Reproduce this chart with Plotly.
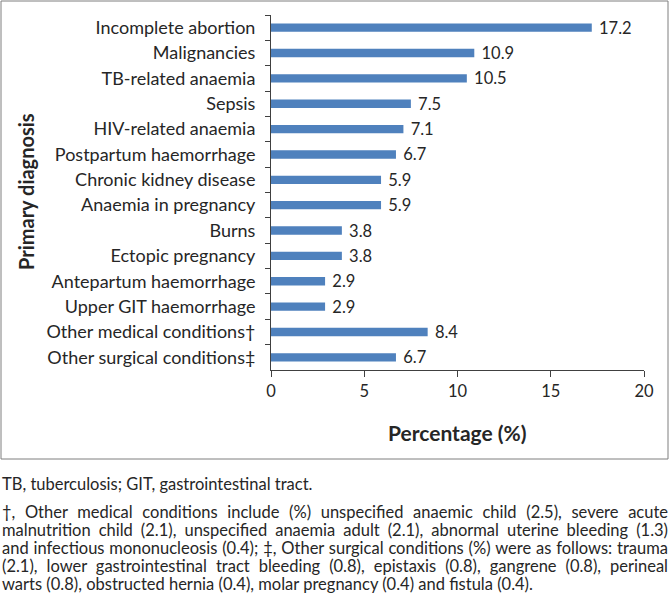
import plotly.graph_objects as go

categories = ["Incomplete abortion", "Malignancies", "TB-related anaemia", "Sepsis",
              "HIV-related anaemia", "Postpartum haemorrhage", "Chronic kidney disease",
              "Anaemia in pregnancy", "Burns", "Ectopic pregnancy", "Antepartum haemorrhage",
              "Upper GIT haemorrhage", "Other medical conditions†", "Other surgical conditions‡"]
values = [17.2, 10.9, 10.5, 7.5, 7.1, 6.7, 5.9, 5.9, 3.8, 3.8, 2.9, 2.9, 8.4, 6.7]
x_ticks = [0, 5, 10, 15, 20]

abbrev_note = "TB, tuberculosis; GIT, gastrointestinal tract."
paragraph_lines = [
    "†, Other medical conditions include (%) unspecified anaemic child (2.5), severe acute",
    "malnutrition child (2.1), unspecified anaemia adult (2.1), abnormal uterine bleeding (1.3)",
    "and infectious mononucleosis (0.4); ‡, Other surgical conditions (%) were as follows: trauma",
    "(2.1), lower gastrointestinal tract bleeding (0.8), epistaxis (0.8), gangrene (0.8), perineal",
    "warts (0.8), obstructed hernia (0.4), molar pregnancy (0.4) and fistula (0.4).",
]

W, H = 670, 597
L, R, T, B = 271, 644, 15, 370
FONT = "Lato"
TXT = "#262626"

def px_x(x):
    return (x - L) / (R - L)

def px_y(y):
    return (B - y) / (B - T)

fig = go.Figure(go.Bar(
    y=categories, x=values, orientation="h",
    marker=dict(color="#4F81BD", line=dict(width=0)),
    width=0.33,
    text=["\u00a0" + f"{v:.1f}" for v in values], textposition="outside",
    constraintext="none",
    textfont=dict(family=FONT, size=16.5, color=TXT),
    cliponaxis=False,
))

annotations = [
    dict(text="<b>Primary diagnosis</b>", xref="paper", yref="paper",
         x=px_x(26), y=px_y(192), textangle=-90, showarrow=False,
         xanchor="center", yanchor="middle",
         font=dict(family=FONT, size=20, color=TXT)),
    dict(text="<b>Percentage (%)</b>", xref="paper", yref="paper",
         x=px_x(457), y=px_y(432), showarrow=False,
         xanchor="center", yanchor="middle",
         font=dict(family=FONT, size=21, color=TXT)),
    dict(text=abbrev_note, xref="paper", yref="paper",
         x=px_x(0), y=px_y(484), showarrow=False,
         xanchor="left", yanchor="middle", align="left",
         font=dict(family=FONT, size=16.5, color=TXT)),
]
para_idx = len(annotations)
annotations.append(dict(text="<br>".join(paragraph_lines), xref="paper", yref="paper",
                        x=px_x(0), y=px_y(500), showarrow=False,
                        xanchor="left", yanchor="top", align="left",
                        font=dict(family=FONT, size=16.5, color=TXT)))

fig.update_layout(
    width=W, height=H,
    margin=dict(l=L, r=W - R, t=T, b=H - B),
    paper_bgcolor="white", plot_bgcolor="white",
    showlegend=False,
    font=dict(family=FONT, size=16, color=TXT),
    xaxis=dict(range=[0, 20], tickvals=x_ticks, ticks="outside", ticklen=6,
               tickcolor="#404040", showline=True, linecolor="#404040", linewidth=1,
               showgrid=False, zeroline=False,
               tickfont=dict(family=FONT, size=16.5, color=TXT)),
    yaxis=dict(autorange="reversed", type="category", ticks="outside", ticklen=5,
               tickson="boundaries", tickcolor="#404040", showline=True,
               linecolor="#404040", linewidth=1, showgrid=False,
               ticklabelstandoff=11,
               tickfont=dict(family=FONT, size=18, color=TXT)),
    annotations=annotations,
    shapes=[dict(type="rect", xref="paper", yref="paper",
                 x0=px_x(1), x1=px_x(668), y0=px_y(1), y1=px_y(459),
                 line=dict(color="#7f7f7f", width=1), fillcolor="rgba(0,0,0,0)")],
)

post = """
document.body.style.margin = '0';
var gd = document.getElementById('{plot_id}');
var PIDX = %d;
var RIGHT = 668;
var LH = 18;
function fixParagraph() {
  var a = gd.querySelector('g.annotation[data-index="' + PIDX + '"]');
  if (!a) return;
  var t = a.querySelector('text.annotation-text');
  if (!t) return;
  var lines = t.querySelectorAll('tspan.line');
  var base = gd.getBoundingClientRect().left;
  lines.forEach(function(tsp, i) {
    tsp.setAttribute('dy', (i * LH) + 'px');
    tsp.style.wordSpacing = '0px';
  });
  lines.forEach(function(tsp, i) {
    if (i === lines.length - 1) return;
    var len = tsp.getComputedTextLength();
    var left = tsp.getBoundingClientRect().left - base;
    var n = (tsp.textContent.match(/ /g) || []).length;
    if (n > 0) tsp.style.wordSpacing = ((RIGHT - left - len) / n) + 'px';
  });
}
fixParagraph();
gd.on('plotly_afterplot', fixParagraph);
""" % para_idx

fig.write_html("out.html", post_script=post, config={"displayModeBar": False})
